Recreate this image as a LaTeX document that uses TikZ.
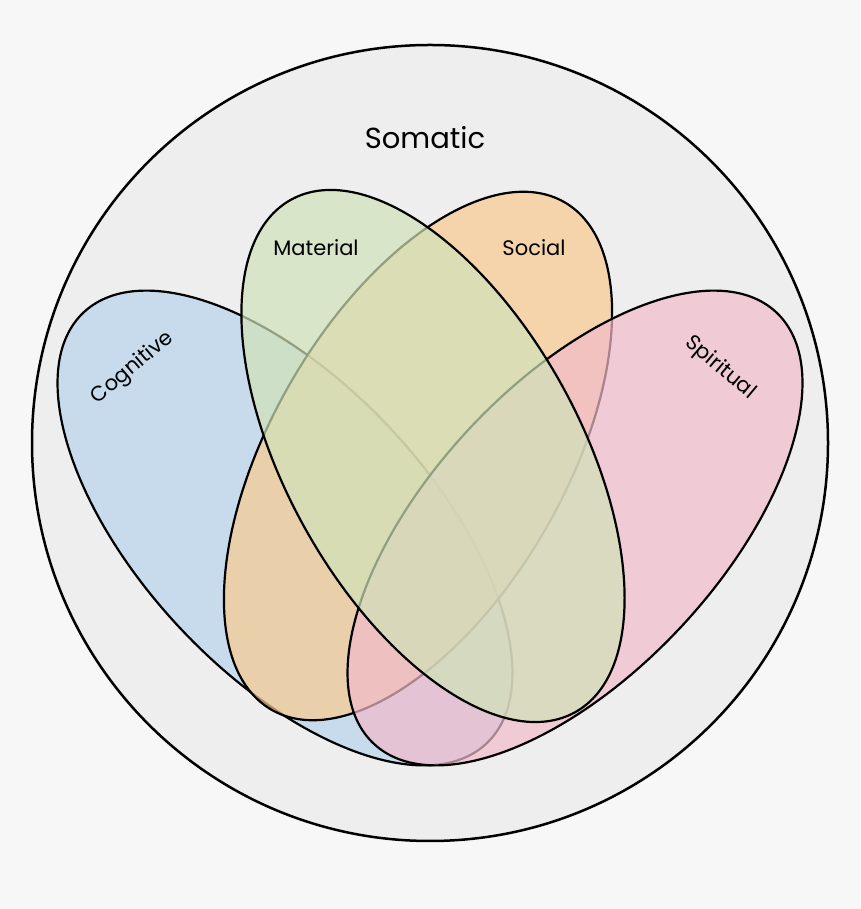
\documentclass[tikz,border=0pt]{standalone}
\usepackage{fontspec}
\setmainfont{Poppins}
\definecolor{cb}{RGB}{184,212,237}
\definecolor{cp}{RGB}{241,187,202}
\definecolor{cg}{RGB}{208,226,184}
\definecolor{co}{RGB}{249,202,144}
\definecolor{bgc}{RGB}{247,247,247}
\definecolor{circ}{RGB}{238,238,238}
\tikzset{petal/.style={draw=black,line width=2.2pt,fill opacity=0.7},
lab/.style={font=\fontsize{21}{24}\selectfont}}
\begin{document}
\begin{tikzpicture}[x=1pt,y=1pt]
\fill[bgc] (0,0) rectangle (860,909);
\useasboundingbox (0,0) rectangle (860,909);
\draw[fill=circ,line width=2.5pt] (430,466) circle (398);
\draw[petal,fill=cb] (285,381) ellipse [x radius=295,y radius=145,rotate=-47];
\draw[petal,fill=co] (418,453) ellipse [x radius=293,y radius=147,rotate=60];
\draw[petal,fill=cp] (575,381) ellipse [x radius=295,y radius=145,rotate=47];
\draw[petal,fill=cg] (433,453) ellipse [x radius=293,y radius=147,rotate=-61];
\node[font=\fontsize{29}{32}\selectfont] (som) at (425,771) {Somatic};
\node[lab] (mat) at (316,661) {Material};
\node[lab] (soc) at (534,661) {Social};
\node[lab,rotate=40] (cog) at (133,541) {Cognitive};
\node[lab,rotate=-40] (spi) at (720,541) {Spiritual};
\end{tikzpicture}
\end{document}
